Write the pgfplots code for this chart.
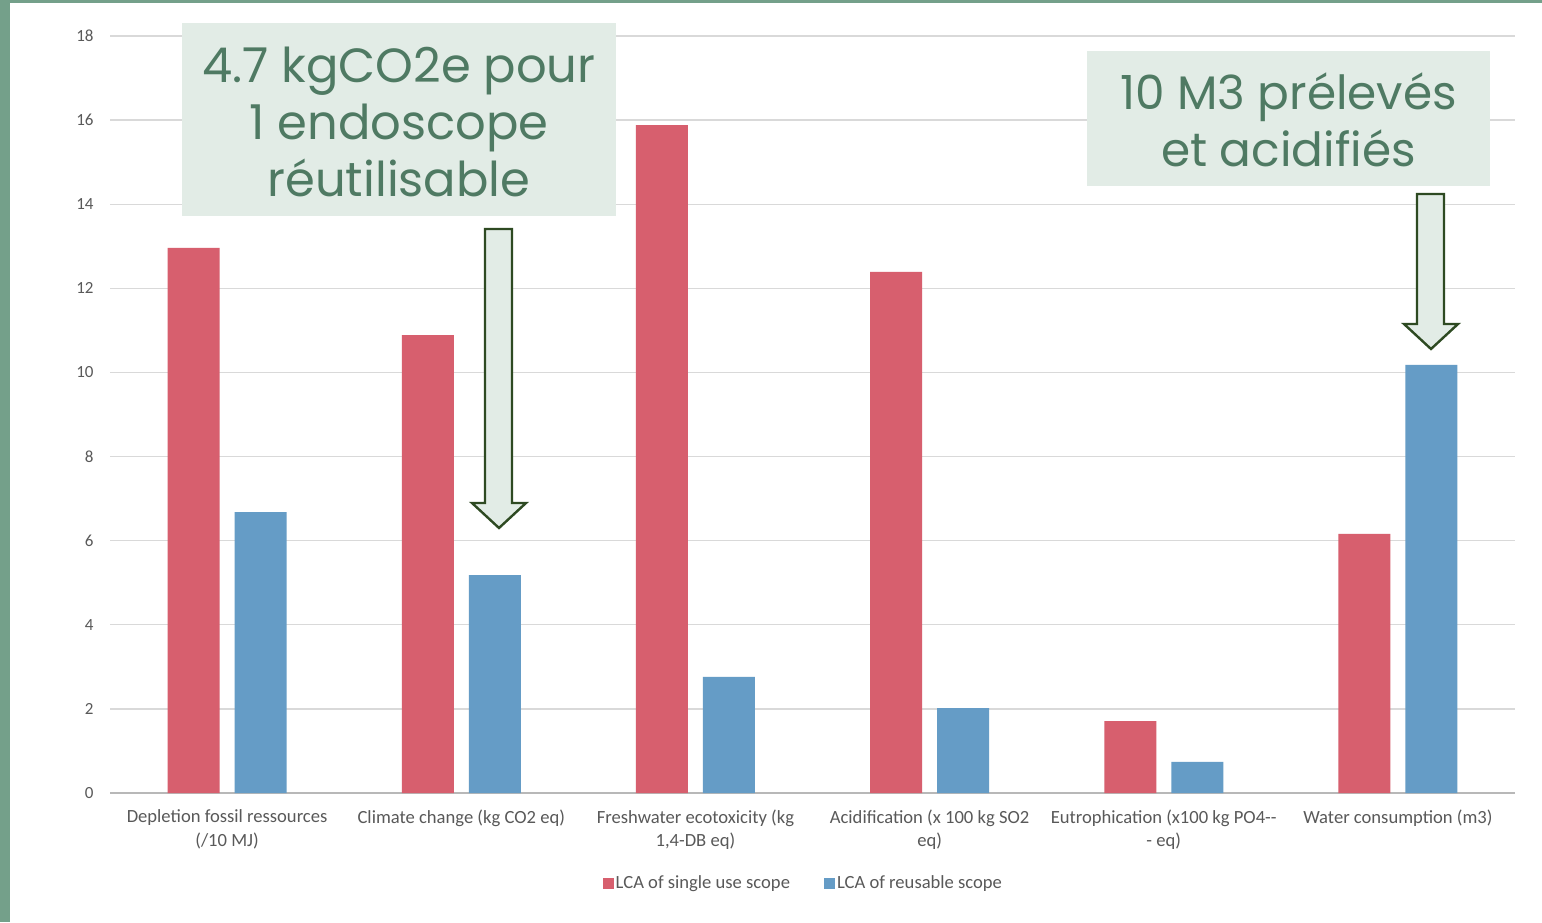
\documentclass[border=0pt]{standalone}
\usepackage{fontspec}
\setmainfont{Carlito}
\newfontfamily\boxfont{Poppins}
\usepackage{pgfplots}
\pgfplotsset{compat=1.18}
\definecolor{borderc}{HTML}{74A08A}
\definecolor{redc}{HTML}{D75F6E}
\definecolor{bluec}{HTML}{659CC6}
\definecolor{gridc}{HTML}{D9D9D9}
\definecolor{tickc}{HTML}{595959}
\definecolor{boxfill}{HTML}{E2ECE6}
\definecolor{boxtext}{HTML}{4F7A63}
\definecolor{arrowc}{HTML}{2E4A22}
\begin{document}
\begin{tikzpicture}
\path[use as bounding box] (0,0) rectangle (771pt,461pt);
\fill[white] (0,0) rectangle (771pt,461pt);
\fill[borderc] (0,0) rectangle (5pt,461pt);
\fill[borderc] (0,459.5pt) rectangle (771pt,461pt);
\begin{axis}[
  at={(55pt,64.5pt)}, anchor=south west,
  width=702.5pt, height=378.5pt, scale only axis,
  xmin=-0.5, xmax=5.5, ymin=0, ymax=18,
  ybar=7.5pt, bar width=26pt,
  ytick={0,2,...,18},
  xtick={0,1,2,3,4,5},
  xticklabels={{Depletion fossil ressources\\(/10 MJ)},{Climate change (kg CO2 eq)},{Freshwater ecotoxicity (kg\\1,4-DB eq)},{Acidification (x 100 kg SO2\\eq)},{Eutrophication (x100 kg PO4{-}{-}\\- eq)},{Water consumption (m3)}},
  ymajorgrids, grid style={line width=0.7pt, gridc},
  axis x line*=bottom, axis y line*=left,
  x axis line style={line width=1pt, gridc!85!black, -},
  y axis line style={draw=none},
  major tick length=0pt,
  /pgf/number format/assume math mode=true,
  yticklabel style={font=\fontsize{8.5}{10}\selectfont, text=tickc, anchor=east, inner sep=0pt, xshift=-8pt},
  xticklabel style={font=\fontsize{9.3}{12}\selectfont, text=tickc, anchor=north, inner sep=0pt, yshift=-8pt, align=center},
  legend style={at={(0.4935,-0.119)}, anchor=center, draw=none, fill=none, legend columns=2,
    font=\fontsize{9.3}{11}\selectfont, text=tickc, column sep=0pt,
    nodes={inner sep=1pt},
    /tikz/every even column/.append style={column sep=16pt}},
  legend image code/.code={\fill[#1] (0pt,-2.75pt) rectangle (5.5pt,2.75pt);},
  legend cell align=left,
]
\addplot[fill=redc, draw=none] coordinates {(0,12.96) (1,10.89) (2,15.88) (3,12.39) (4,1.71) (5,6.16)};
\addplot[fill=bluec, draw=none] coordinates {(0,6.68) (1,5.18) (2,2.76) (3,2.02) (4,0.74) (5,10.18)};
\legend{LCA of single use scope, LCA of reusable scope}
\end{axis}
\begin{scope}[x=0.5pt,y=0.5pt]
\fill[boxfill] (182,899) rectangle (616,706);
\node[font=\boxfont\fontsize{24}{28.5}\selectfont, text=boxtext, align=center] at (399,800) {4.7 kgCO2e pour\\1 endoscope\\réutilisable};
\fill[boxfill] (1087,871) rectangle (1490,736);
\node[font=\boxfont\fontsize{23.5}{28.5}\selectfont, text=boxtext, align=center] at (1288.5,802) {10 M3 prélevés\\et acidifiés};
\draw[arrowc, fill=boxfill, line width=1.2pt, line join=miter] (485,693) -- (512,693) -- (512,419) -- (526,419) -- (499,394) -- (472,419) -- (485,419) -- cycle;
\draw[arrowc, fill=boxfill, line width=1.2pt, line join=miter] (1417,728) -- (1444,728) -- (1444,598) -- (1458,598) -- (1431,573) -- (1404,598) -- (1417,598) -- cycle;
\end{scope}
\end{tikzpicture}
\end{document}
